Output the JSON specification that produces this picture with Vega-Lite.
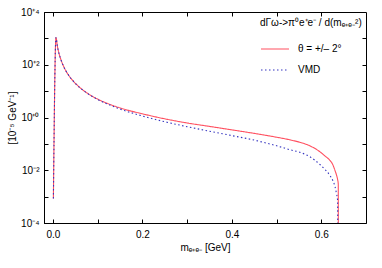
{
  "$schema": "https://vega.github.io/schema/vega-lite/v6.json",
  "width": 322,
  "height": 211,
  "autosize": {"type": "none"},
  "padding": {"left": 44, "top": 12, "right": 16, "bottom": 45},
  "config": {
    "font": "Liberation Sans",
    "view": {"stroke": "#000", "strokeWidth": 1},
    "axis": {
      "domainColor": "#000", "tickColor": "#000", "tickSize": -4, "grid": false,
      "labelFontSize": 10, "labelColor": "#000", "labelFont": "Liberation Sans",
      "titleFontSize": 10, "titleColor": "#000", "titleFont": "Liberation Sans", "titleFontWeight": "normal"
    },
    "legend": {
      "labelFont": "Liberation Sans", "titleFont": "Liberation Sans"
    }
  },
  "data": {
    "values": [
      {"m": 0.001, "v": 0.00085, "s": "θ = +/– 2°"},
      {"m": 0.0068, "v": 1080, "s": "θ = +/– 2°"},
      {"m": 0.01, "v": 494, "s": "θ = +/– 2°"},
      {"m": 0.0125, "v": 316, "s": "θ = +/– 2°"},
      {"m": 0.0165, "v": 182, "s": "θ = +/– 2°"},
      {"m": 0.022, "v": 102, "s": "θ = +/– 2°"},
      {"m": 0.03, "v": 54.7, "s": "θ = +/– 2°"},
      {"m": 0.04, "v": 30.8, "s": "θ = +/– 2°"},
      {"m": 0.05, "v": 19.8, "s": "θ = +/– 2°"},
      {"m": 0.06, "v": 13.7, "s": "θ = +/– 2°"},
      {"m": 0.07, "v": 10.1, "s": "θ = +/– 2°"},
      {"m": 0.085, "v": 6.85, "s": "θ = +/– 2°"},
      {"m": 0.1, "v": 4.98, "s": "θ = +/– 2°"},
      {"m": 0.115, "v": 3.82, "s": "θ = +/– 2°"},
      {"m": 0.13, "v": 3.02, "s": "θ = +/– 2°"},
      {"m": 0.16, "v": 2.05, "s": "θ = +/– 2°"},
      {"m": 0.2, "v": 1.38, "s": "θ = +/– 2°"},
      {"m": 0.25, "v": 0.89, "s": "θ = +/– 2°"},
      {"m": 0.3, "v": 0.62, "s": "θ = +/– 2°"},
      {"m": 0.35, "v": 0.46, "s": "θ = +/– 2°"},
      {"m": 0.4, "v": 0.34, "s": "θ = +/– 2°"},
      {"m": 0.45, "v": 0.25, "s": "θ = +/– 2°"},
      {"m": 0.48, "v": 0.205, "s": "θ = +/– 2°"},
      {"m": 0.5, "v": 0.179, "s": "θ = +/– 2°"},
      {"m": 0.53, "v": 0.142, "s": "θ = +/– 2°"},
      {"m": 0.552, "v": 0.115, "s": "θ = +/– 2°"},
      {"m": 0.574, "v": 0.085, "s": "θ = +/– 2°"},
      {"m": 0.597, "v": 0.05, "s": "θ = +/– 2°"},
      {"m": 0.608, "v": 0.035, "s": "θ = +/– 2°"},
      {"m": 0.619, "v": 0.024, "s": "θ = +/– 2°"},
      {"m": 0.626, "v": 0.016, "s": "θ = +/– 2°"},
      {"m": 0.63, "v": 0.0105, "s": "θ = +/– 2°"},
      {"m": 0.634, "v": 0.0066, "s": "θ = +/– 2°"},
      {"m": 0.6365, "v": 0.0045, "s": "θ = +/– 2°"},
      {"m": 0.638, "v": 0.003, "s": "θ = +/– 2°"},
      {"m": 0.6381, "v": 0.000001, "s": "θ = +/– 2°"},
      {"m": 0.001, "v": 0.00085, "s": "VMD"},
      {"m": 0.0068, "v": 1080, "s": "VMD"},
      {"m": 0.01, "v": 494, "s": "VMD"},
      {"m": 0.0125, "v": 316, "s": "VMD"},
      {"m": 0.0165, "v": 182, "s": "VMD"},
      {"m": 0.022, "v": 102, "s": "VMD"},
      {"m": 0.03, "v": 54.6, "s": "VMD"},
      {"m": 0.04, "v": 30.7, "s": "VMD"},
      {"m": 0.05, "v": 19.7, "s": "VMD"},
      {"m": 0.06, "v": 13.6, "s": "VMD"},
      {"m": 0.07, "v": 10.0, "s": "VMD"},
      {"m": 0.085, "v": 6.74, "s": "VMD"},
      {"m": 0.1, "v": 4.84, "s": "VMD"},
      {"m": 0.115, "v": 3.64, "s": "VMD"},
      {"m": 0.13, "v": 2.83, "s": "VMD"},
      {"m": 0.16, "v": 1.83, "s": "VMD"},
      {"m": 0.2, "v": 1.14, "s": "VMD"},
      {"m": 0.25, "v": 0.691, "s": "VMD"},
      {"m": 0.3, "v": 0.449, "s": "VMD"},
      {"m": 0.35, "v": 0.302, "s": "VMD"},
      {"m": 0.4, "v": 0.206, "s": "VMD"},
      {"m": 0.45, "v": 0.139, "s": "VMD"},
      {"m": 0.48, "v": 0.104, "s": "VMD"},
      {"m": 0.5, "v": 0.085, "s": "VMD"},
      {"m": 0.53, "v": 0.06, "s": "VMD"},
      {"m": 0.552, "v": 0.048, "s": "VMD"},
      {"m": 0.574, "v": 0.033, "s": "VMD"},
      {"m": 0.597, "v": 0.0165, "s": "VMD"},
      {"m": 0.608, "v": 0.0108, "s": "VMD"},
      {"m": 0.619, "v": 0.0065, "s": "VMD"},
      {"m": 0.626, "v": 0.004, "s": "VMD"},
      {"m": 0.631, "v": 0.0023, "s": "VMD"},
      {"m": 0.634, "v": 0.0013, "s": "VMD"},
      {"m": 0.6365, "v": 0.0007, "s": "VMD"},
      {"m": 0.6372, "v": 0.000001, "s": "VMD"}
    ]
  },
  "layer": [
    {
      "mark": {"type": "line", "clip": true, "strokeWidth": 1.1, "interpolate": "monotone"},
      "encoding": {
        "x": {
          "field": "m", "type": "quantitative",
          "scale": {"domain": [-0.02, 0.7], "nice": false, "zero": false},
          "axis": {
            "orient": "bottom", "title": "mₑ₊ₑ₋ [GeV]",
            "values": [0, 0.1, 0.2, 0.3, 0.4, 0.5, 0.6],
            "labelExpr": "abs((datum.value*10) % 2) < 0.01 ? format(datum.value, '.1f') : ''",
            "labelPadding": 10, "titlePadding": 3, "labelOverlap": false
          }
        },
        "y": {
          "field": "v", "type": "quantitative",
          "scale": {"type": "log", "domain": [0.0001, 10000], "nice": false},
          "axis": {
            "orient": "left", "title": "[10⁻⁵ GeV⁻¹]",
            "values": [0.0001, 0.001, 0.01, 0.1, 1, 10, 100, 1000, 10000],
            "labelExpr": "round(log(datum.value)/LN10)==4 ? '10⁺⁴' : round(log(datum.value)/LN10)==2 ? '10⁺²' : round(log(datum.value)/LN10)==0 ? '10⁺⁰' : round(log(datum.value)/LN10)==-2 ? '10⁻²' : round(log(datum.value)/LN10)==-4 ? '10⁻⁴' : ''",
            "labelPadding": 9, "titlePadding": 3, "labelOverlap": false
          }
        },
        "color": {
          "field": "s", "type": "nominal",
          "scale": {"domain": ["θ = +/– 2°", "VMD"], "range": ["#ff5060", "#3535c0"]},
          "legend": {
            "orient": "none", "legendX": 216, "legendY": 6,
            "title": "dΓω->π⁰e⁺e⁻ / d(mₑ₊ₑ₋²)",
            "titleFontSize": 10, "titleFontWeight": "normal", "titleColor": "#000", "titlePadding": 6,
            "labelFontSize": 10, "labelColor": "#000", "labelOffset": 8,
            "symbolType": "stroke", "symbolSize": 784, "symbolStrokeWidth": 1.2, "rowPadding": 1
          }
        },
        "strokeDash": {
          "field": "s", "type": "nominal",
          "scale": {"domain": ["θ = +/– 2°", "VMD"], "range": [[1, 0], [1.5, 2.5]]},
          "legend": null
        }
      }
    },
    {
      "mark": {"type": "point", "opacity": 0},
      "encoding": {
        "x": {
          "field": "m", "type": "quantitative",
          "axis": {"orient": "top", "title": null, "labels": false, "domain": false,
                   "values": [0, 0.1, 0.2, 0.3, 0.4, 0.5, 0.6]}
        },
        "y": {
          "field": "v", "type": "quantitative",
          "axis": {"orient": "right", "title": null, "labels": false, "domain": false,
                   "values": [0.001, 0.01, 0.1, 1, 10, 100, 1000]}
        }
      }
    }
  ],
  "resolve": {"axis": {"x": "independent", "y": "independent"}}
}
